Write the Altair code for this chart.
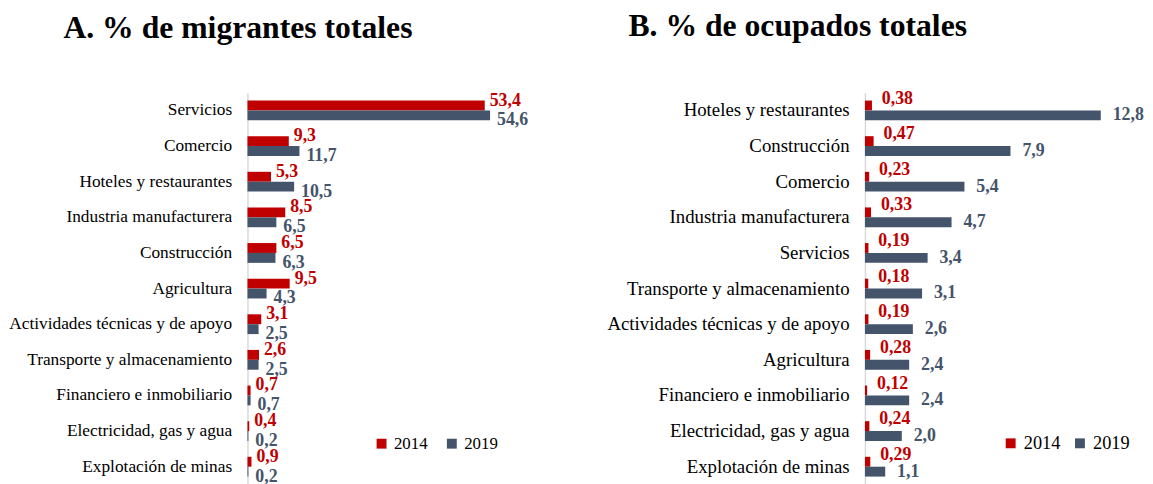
import altair as alt
import pandas as pd

years = ["2014", "2019"]
colors = ["#C00000", "#44546A"]

cats_a = ["Servicios", "Comercio", "Hoteles y restaurantes", "Industria manufacturera",
          "Construcción", "Agricultura", "Actividades técnicas y de apoyo",
          "Transporte y almacenamiento", "Financiero e inmobiliario",
          "Electricidad, gas y agua", "Explotación de minas"]
a_2014 = [53.4, 9.3, 5.3, 8.5, 6.5, 9.5, 3.1, 2.6, 0.7, 0.4, 0.9]
a_2019 = [54.6, 11.7, 10.5, 6.5, 6.3, 4.3, 2.5, 2.5, 0.7, 0.2, 0.2]

cats_b = ["Hoteles y restaurantes", "Construcción", "Comercio", "Industria manufacturera",
          "Servicios", "Transporte y almacenamiento", "Actividades técnicas y de apoyo",
          "Agricultura", "Financiero e inmobiliario", "Electricidad, gas y agua",
          "Explotación de minas"]
b_2014 = [0.38, 0.47, 0.23, 0.33, 0.19, 0.18, 0.19, 0.28, 0.12, 0.24, 0.29]
b_2019 = [12.8, 7.9, 5.4, 4.7, 3.4, 3.1, 2.6, 2.4, 2.4, 2.0, 1.1]

FONT = "Liberation Serif"


def make_df(cats, v14, v19, d14, d19):
    rows = []
    for c, a, b in zip(cats, v14, v19):
        rows.append({"cat": c, "year": "2014", "value": a,
                     "label": f"{a:.{d14}f}".replace(".", ",")})
        rows.append({"cat": c, "year": "2019", "value": b,
                     "label": f"{b:.{d19}f}".replace(".", ",")})
    return pd.DataFrame(rows)


def panel(df, cats, title, title_dx, xmax, width, axis_font, extent,
          leg_x, leg_y, leg_font, leg_colpad, rdx, rdy, bdx, bdy):
    yenc = alt.Y("cat:N", sort=cats, title=None,
                 scale=alt.Scale(paddingInner=0, paddingOuter=0),
                 axis=alt.Axis(labelFont=FONT, labelFontSize=axis_font, labelColor="black",
                               labelPadding=16, ticks=False, domainColor="#D9D9D9",
                               domainWidth=1.5, labelLimit=400, minExtent=extent,
                               maxExtent=extent))
    yoff = alt.YOffset("year:N", scale=alt.Scale(domain=years, paddingInner=0, paddingOuter=0.8))
    xenc = alt.X("value:Q", axis=None, scale=alt.Scale(domain=[0, xmax], nice=False, zero=True))
    base = alt.Chart(df)
    bars = base.mark_bar(size=10).encode(
        y=yenc, yOffset=yoff, x=xenc,
        color=alt.Color("year:N", scale=alt.Scale(domain=years, range=colors),
                        legend=alt.Legend(orient="none", legendX=leg_x, legendY=leg_y,
                                          direction="horizontal", title=None,
                                          symbolType="square", symbolSize=100,
                                          symbolStrokeWidth=0, symbolOpacity=1,
                                          labelFont=FONT, labelFontSize=leg_font,
                                          labelColor="black", labelOffset=4,
                                          columnPadding=leg_colpad, padding=0)))
    t14 = base.transform_filter(alt.datum.year == "2014").mark_text(
        align="left", baseline="middle", dx=rdx, dy=rdy, font=FONT, fontSize=18,
        fontWeight="bold", color=colors[0]).encode(y=yenc, yOffset=yoff, x=xenc, text="label:N")
    t19 = base.transform_filter(alt.datum.year == "2019").mark_text(
        align="left", baseline="middle", dx=bdx, dy=bdy, font=FONT, fontSize=18,
        fontWeight="bold", color=colors[1]).encode(y=yenc, yOffset=yoff, x=xenc, text="label:N")
    return alt.layer(bars, t14, t19).properties(
        width=width, height=396,
        title=alt.TitleParams(title, font=FONT, fontSize=32, fontWeight="bold",
                              color="black", anchor="start", frame="group",
                              dx=title_dx, offset=47))


df_a = make_df(cats_a, a_2014, a_2019, 1, 1)
df_b = make_df(cats_b, b_2014, b_2019, 2, 1)

left = panel(df_a, cats_a, "A. % de migrantes totales", -186, 300 / 4.49, 300, 17.5, 241,
             127, 346, 17, 16, 5, -5, 7, 5)
right = panel(df_b, cats_b, "B. % de ocupados totales", -239, 15.2, 283, 19, 260,
              138, 345, 18.5, 10, 10, -7, 12, 0)

chart = alt.hconcat(left, right, spacing=63).resolve_legend(color="independent").properties(
    padding=0).configure_view(stroke=None)

chart.save("out.html", embed_options={"renderer": "svg", "actions": False})
